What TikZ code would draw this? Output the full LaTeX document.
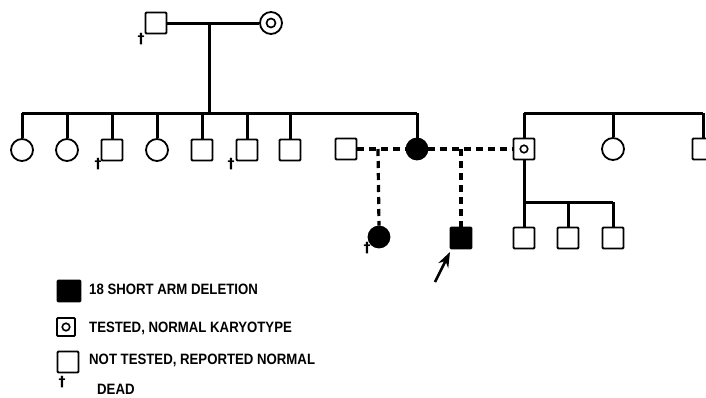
\documentclass[tikz,border=0pt]{standalone}
\usepackage{fontspec}
\setmainfont{Liberation Sans}
\newfontfamily\dagfont{DejaVu Sans}
\usetikzlibrary{arrows.meta}
\tikzset{
  sq/.style={draw, line width=1.8pt, rectangle, minimum size=21pt, inner sep=0pt, rounded corners=1pt},
  ci/.style={draw, line width=1.8pt, circle, minimum size=22pt, inner sep=0pt},
  fsq/.style={sq, fill=black},
  fci/.style={ci, fill=black, minimum size=21pt},
  ln/.style={line width=3pt},
  dl/.style={line width=3.2pt, dash pattern=on 7pt off 5pt},
  dg/.style={font=\dagfont\bfseries\fontsize{14}{14}\selectfont, inner sep=0pt},
  lg/.style={anchor=base west, inner sep=0pt, font=\bfseries\fontsize{15}{15}\selectfont}
}
\begin{document}
\begin{tikzpicture}[x=1pt,y=-1pt]
\useasboundingbox (0,0) rectangle (706,397);
% generation I
\node[sq] (f) at (156,23) {};
\node[dg] (fd) at (141,39) {†};
\node[ci] (m) at (271,23) {};
\node[circle, draw, line width=1.7pt, minimum size=9pt, inner sep=0pt] (mi) at (m.center) {};
\draw[ln] (f.east) -- (m.west);
\coordinate (mid) at (209,23);
\coordinate (sib) at (209,113);
\draw[ln] (mid) -- (sib);
% generation II
\node[ci] (c1) at (22,150) {};
\node[ci] (c2) at (67,150) {};
\node[sq] (c3) at (112,150) {};
\node[dg] (c3d) at (98,164) {†};
\node[ci] (c4) at (157,150) {};
\node[sq] (c5) at (202,150) {};
\node[sq] (c6) at (247,150) {};
\node[dg] (c6d) at (231,164) {†};
\node[sq] (c7) at (290,150) {};
\node[fci] (p) at (417,149) {};
\node[sq] (s1) at (346,149) {};
\draw[ln] (c1.north |- sib) -- (p.north |- sib);
\foreach \n in {c1,c2,c3,c4,c5,c6,c7,p} \draw[ln] (\n.north |- sib) -- (\n.north);
% right family
\node[sq] (t) at (524,149) {};
\node[circle, draw, line width=1.6pt, minimum size=7.5pt, inner sep=0pt] (ti) at (t.center) {};
\node[ci] (r1) at (613,149) {};
\node[sq] (r2) at (703,149) {};
\coordinate (rs) at (524,113);
\draw[ln] (rs) -- (r2.north |- rs);
\foreach \n in {t,r1,r2} \draw[ln] (\n.north |- rs) -- (\n.north);
% dashed matings
\draw[dl] (s1.east) -- (p.west);
\draw[dl] (p.east) -- (t.west);
\coordinate (d1) at (378,149);
\coordinate (d2) at (461,149);
\node[fci] (k1) at (379,237) {};
\node[dg] (k1d) at (367,248) {†};
\node[fsq] (k2) at (461,238) {};
\draw[dl] (d1) -- (k1.north);
\draw[dl] (d2) -- (k2.north);
\coordinate (arrtail) at (435,282);
\coordinate (arrtip) at (450,252);
\draw[line width=2.6pt, -{Stealth[length=15pt,width=11pt]}] (arrtail) -- (arrtip);
% children of t
\coordinate (bar) at (524,202);
\node[sq] (g1) at (524,238) {};
\node[sq] (g2) at (568,238) {};
\node[sq] (g3) at (613,238) {};
\draw[ln] (t.south) -- (bar);
\draw[ln] (bar) -- (g3.north |- bar);
\foreach \n in {g1,g2,g3} \draw[ln] (\n.north |- bar) -- (\n.north);
% legend
\node[fsq, minimum width=23pt, minimum height=21pt] (l1) at (69,291) {};
\node[sq, minimum size=18pt] (l2) at (66,327) {};
\node[circle, draw, line width=1.6pt, minimum size=7.5pt, inner sep=0pt] (l2i) at (l2.center) {};
\node[sq] (l3) at (68,362) {};
\node[dg] (l4) at (62,382) {†};
\node[lg] (t1) at (89,294) {\scalebox{0.88}[1]{18 SHORT ARM DELETION}};
\node[lg] (t2) at (89,332) {\scalebox{0.88}[1]{TESTED, NORMAL KARYOTYPE}};
\node[lg] (t3) at (89,364) {\scalebox{0.88}[1]{NOT TESTED, REPORTED NORMAL}};
\node[lg] (t4) at (97,394) {\scalebox{0.88}[1]{DEAD}};
\end{tikzpicture}
\end{document}
